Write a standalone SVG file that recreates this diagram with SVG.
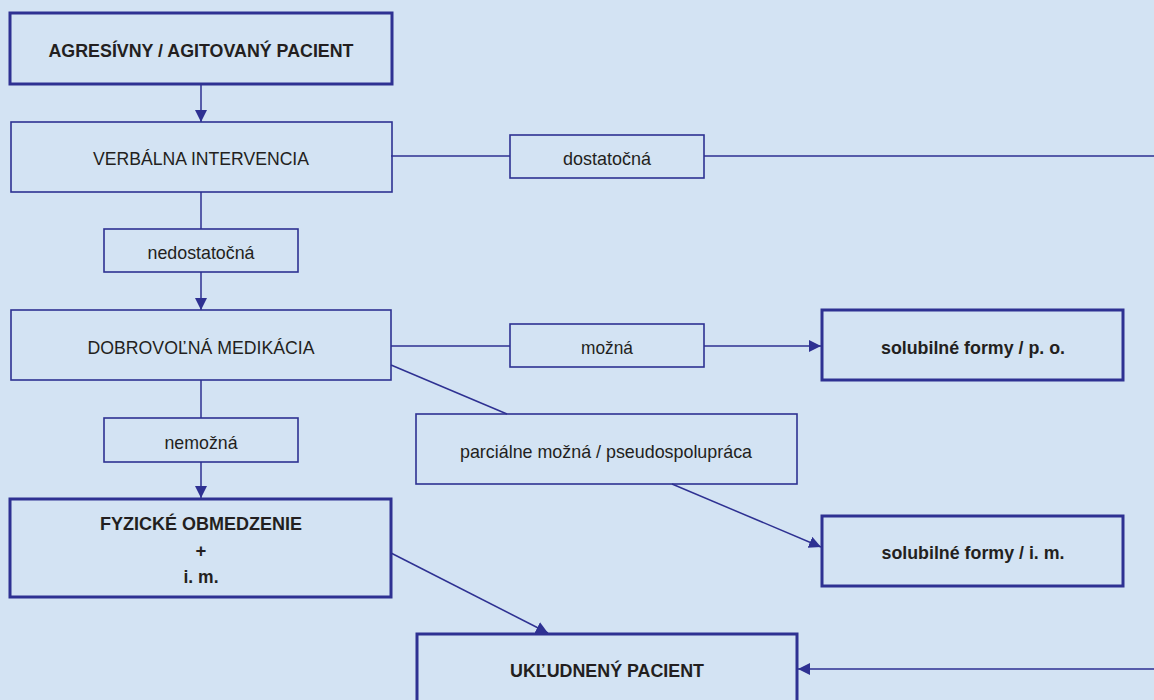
<svg xmlns="http://www.w3.org/2000/svg" width="1154" height="700" viewBox="0 0 1154 700">
<defs>
<marker id="arr" markerUnits="userSpaceOnUse" markerWidth="14" markerHeight="14" refX="12" refY="6" orient="auto">
<path d="M0,0 L12,6 L0,12 Z" fill="#2e3192"/>
</marker>
<style>
.thin{fill:none;stroke:#2e3192;stroke-width:1.6}
.thick{fill:none;stroke:#2e3192;stroke-width:3}
.ln{fill:none;stroke:#2e3192;stroke-width:1.5}
.t{font-family:"Liberation Sans",Arial,sans-serif;font-size:18.5px;fill:#231f20;text-anchor:middle}
.b{font-weight:bold}
</style>
</defs>
<rect x="0" y="0" width="1154" height="700" fill="#d3e3f3"/>
<g id="connectors">
<line class="ln" x1="201" y1="84" x2="201" y2="122" marker-end="url(#arr)"/>
<line class="ln" x1="391" y1="156" x2="510" y2="156"/>
<path class="ln" d="M704,156 H1162 V669 H798" marker-end="url(#arr)"/>
<line class="ln" x1="201" y1="192" x2="201" y2="229"/>
<line class="ln" x1="201" y1="272" x2="201" y2="310" marker-end="url(#arr)"/>
<line class="ln" x1="391" y1="346" x2="510" y2="346"/>
<line class="ln" x1="704" y1="346" x2="821" y2="346" marker-end="url(#arr)"/>
<line class="ln" x1="391" y1="365" x2="507" y2="414"/>
<line class="ln" x1="672" y1="484" x2="821" y2="547" marker-end="url(#arr)"/>
<line class="ln" x1="201" y1="380" x2="201" y2="418"/>
<line class="ln" x1="201" y1="462" x2="201" y2="498" marker-end="url(#arr)"/>
<line class="ln" x1="391" y1="553" x2="548" y2="633" marker-end="url(#arr)"/>
</g>
<g id="agresivny">
<rect class="thick" x="10" y="13" width="382" height="71"/>
<text class="t b" x="201" y="57" textLength="305" lengthAdjust="spacingAndGlyphs">AGRESÍVNY / AGITOVANÝ PACIENT</text>
</g>
<g id="verbalna">
<rect class="thin" x="11" y="122" width="381" height="70"/>
<text class="t" x="201" y="165" textLength="216" lengthAdjust="spacingAndGlyphs">VERBÁLNA INTERVENCIA</text>
</g>
<g id="dostatocna">
<rect class="thin" x="510" y="135" width="194" height="43"/>
<text class="t" x="607" y="165" textLength="88" lengthAdjust="spacingAndGlyphs">dostatočná</text>
</g>
<g id="nedostatocna">
<rect class="thin" x="104" y="229" width="194" height="43"/>
<text class="t" x="201" y="259" textLength="107" lengthAdjust="spacingAndGlyphs">nedostatočná</text>
</g>
<g id="dobrovolna">
<rect class="thin" x="11" y="310" width="380" height="70"/>
<text class="t" x="201" y="354" textLength="227" lengthAdjust="spacingAndGlyphs">DOBROVOĽNÁ MEDIKÁCIA</text>
</g>
<g id="mozna">
<rect class="thin" x="510" y="324" width="194" height="43"/>
<text class="t" x="607" y="354" textLength="52" lengthAdjust="spacingAndGlyphs">možná</text>
</g>
<g id="po">
<rect class="thick" x="822" y="310" width="301" height="70"/>
<text class="t b" x="973" y="354" textLength="184" lengthAdjust="spacingAndGlyphs">solubilné formy / p. o.</text>
</g>
<g id="parcialne">
<rect class="thin" x="416" y="414" width="381" height="70"/>
<text class="t" x="606" y="458" textLength="292" lengthAdjust="spacingAndGlyphs">parciálne možná / pseudospolupráca</text>
</g>
<g id="nemozna">
<rect class="thin" x="104" y="418" width="194" height="44"/>
<text class="t" x="201" y="449" textLength="73" lengthAdjust="spacingAndGlyphs">nemožná</text>
</g>
<g id="im">
<rect class="thick" x="822" y="516" width="301" height="70"/>
<text class="t b" x="973" y="559" textLength="183" lengthAdjust="spacingAndGlyphs">solubilné formy / i. m.</text>
</g>
<g id="fyzicke">
<rect class="thick" x="10" y="499" width="381" height="98"/>
<text class="t b" x="201" y="530" textLength="202" lengthAdjust="spacingAndGlyphs">FYZICKÉ OBMEDZENIE</text>
<text class="t b" x="201" y="557">+</text>
<text class="t b" x="201" y="583" textLength="35" lengthAdjust="spacingAndGlyphs">i. m.</text>
</g>
<g id="ukludneny">
<rect class="thick" x="417" y="634" width="380" height="72"/>
<text class="t b" x="607" y="677" textLength="194" lengthAdjust="spacingAndGlyphs">UKĽUDNENÝ PACIENT</text>
</g>
</svg>
